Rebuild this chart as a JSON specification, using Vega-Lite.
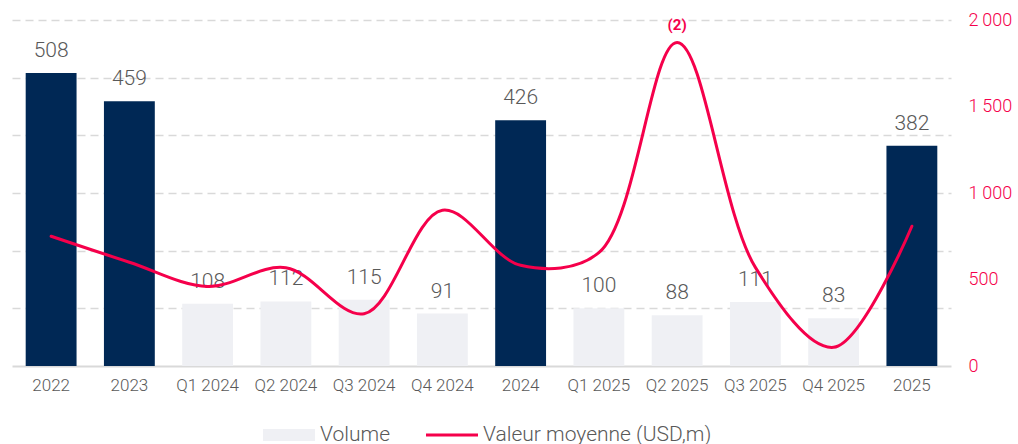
{
  "$schema": "https://vega.github.io/schema/vega-lite/v6.json",
  "autosize": "none",
  "padding": {"left": 12, "top": 20, "right": 67, "bottom": 78},
  "width": 939,
  "height": 346,
  "background": "white",
  "config": {
    "view": {"stroke": null},
    "font": "Roboto",
    "axis": {"labelFont": "Roboto", "titleFont": "Roboto"},
    "legend": {"labelFont": "Roboto"}
  },
  "data": {
    "values": [
      {"periode": "2022", "annuel": true, "volume": 508, "valeur": 750},
      {"periode": "2023", "annuel": true, "volume": 459, "valeur": 600},
      {"periode": "Q1 2024", "annuel": false, "volume": 108, "valeur": 460},
      {"periode": "Q2 2024", "annuel": false, "volume": 112, "valeur": 568},
      {"periode": "Q3 2024", "annuel": false, "volume": 115, "valeur": 302},
      {"periode": "Q4 2024", "annuel": false, "volume": 91, "valeur": 900},
      {"periode": "2024", "annuel": true, "volume": 426, "valeur": 582},
      {"periode": "Q1 2025", "annuel": false, "volume": 100, "valeur": 655},
      {"periode": "Q2 2025", "annuel": false, "volume": 88, "valeur": 1870, "note": "(2)"},
      {"periode": "Q3 2025", "annuel": false, "volume": 111, "valeur": 570},
      {"periode": "Q4 2025", "annuel": false, "volume": 83, "valeur": 108},
      {"periode": "2025", "annuel": true, "volume": 382, "valeur": 808}
    ]
  },
  "encoding": {
    "x": {
      "field": "periode",
      "type": "nominal",
      "sort": null,
      "scale": {"paddingInner": 0.35, "paddingOuter": 0.175},
      "axis": {
        "title": null,
        "labelAngle": 0,
        "labelFontSize": 17,
        "labelFontWeight": 300,
        "labelColor": "#595959",
        "labelPadding": 11,
        "ticks": false,
        "domainColor": "#d9d9d9",
        "domainWidth": 2
      }
    }
  },
  "layer": [
    {
      "layer": [
        {
          "mark": {"type": "bar"},
          "encoding": {
            "y": {
              "field": "volume",
              "type": "quantitative",
              "scale": {"domain": [0, 600]},
              "axis": {
                "title": null,
                "orient": "left",
                "labels": false,
                "ticks": false,
                "domain": false,
                "grid": true,
                "values": [100, 200, 300, 400, 500, 600],
                "gridColor": "#d9d9d9",
                "gridDash": [8, 5],
                "gridWidth": 1.5
              }
            },
            "fill": {
              "field": "annuel",
              "type": "nominal",
              "scale": {"domain": [true, false], "range": ["#002855", "#eff0f4"]},
              "legend": null
            }
          }
        },
        {
          "mark": {"type": "text", "baseline": "alphabetic", "dy": -16, "fontSize": 21, "fontWeight": 300, "color": "#595959"},
          "encoding": {
            "y": {"field": "volume", "type": "quantitative"},
            "text": {"field": "volume", "type": "quantitative"}
          }
        }
      ]
    },
    {
      "layer": [
        {
          "mark": {"type": "line", "interpolate": "catmull-rom", "strokeWidth": 3, "strokeCap": "round"},
          "encoding": {
            "y": {
              "field": "valeur",
              "type": "quantitative",
              "scale": {"domain": [0, 2000]},
              "axis": {
                "title": null,
                "orient": "right",
                "values": [0, 500, 1000, 1500, 2000],
                "labelExpr": "replace(format(datum.value, ','), ',', '\u2009')",
                "labelColor": "#f5004b",
                "labelFontSize": 18,
                "labelFontWeight": 300,
                "labelPadding": 17,
                "ticks": false,
                "domain": false,
                "grid": false
              }
            },
            "color": {
              "datum": "Valeur moyenne (USD,m)",
              "scale": {"domain": ["Volume", "Valeur moyenne (USD,m)"], "range": ["#eff0f4", "#f5004b"]},
              "legend": {
                "title": null,
                "orient": "none",
                "legendX": 251,
                "legendY": 389,
                "direction": "horizontal",
                "labelFontSize": 21,
                "labelFontWeight": 300,
                "labelColor": "#595959",
                "labelOffset": 5,
                "labelLimit": 400,
                "columnPadding": 36,
                "symbolSize": 2704,
                "encode": {
                  "symbols": {
                    "update": {
                      "shape": {"signal": "datum.value === 'Volume' ? 'M-1,-0.23H1V0.23H-1Z' : 'M-1,-0.055H1V0.055H-1Z'"},
                      "fill": {"signal": "datum.value === 'Volume' ? '#eff0f4' : '#f5004b'"},
                      "stroke": {"value": "transparent"},
                      "strokeWidth": {"value": 0},
                      "size": {"value": 2704},
                      "opacity": {"value": 1}
                    }
                  }
                }
              }
            }
          }
        },
        {
          "transform": [{"filter": "isValid(datum.note)"}],
          "mark": {"type": "text", "baseline": "alphabetic", "dy": -12, "fontSize": 15, "fontWeight": "bold", "color": "#f5004b"},
          "encoding": {
            "y": {"field": "valeur", "type": "quantitative"},
            "text": {"field": "note", "type": "nominal"}
          }
        }
      ]
    }
  ],
  "resolve": {"scale": {"y": "independent"}}
}
